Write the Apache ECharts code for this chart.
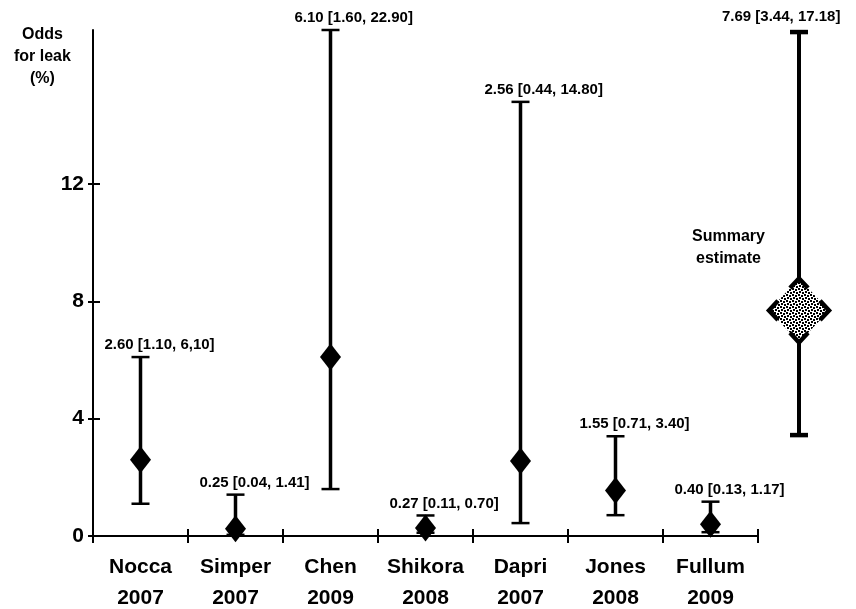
<!DOCTYPE html>
<html>
<head>
<meta charset="utf-8">
<script src="https://cdn.jsdelivr.net/npm/echarts@6/dist/echarts.min.js"></script>
<style>
  html, body { margin: 0; padding: 0; background: #fff; }
  #chart { width: 856px; height: 609px; }
</style>
</head>
<body>
<div id="chart"></div>
<script>
// Study names (two-line axis labels)
const studies = ['Nocca\n2007', 'Simper\n2007', 'Chen\n2009', 'Shikora\n2008', 'Dapri\n2007', 'Jones\n2008', 'Fullum\n2009'];
// Odds for leak with 95% CI, kept exactly as printed on the chart
const oddsText  = ['2.60', '0.25', '6.10', '0.27', '2.56', '1.55', '0.40'];
const lowerText = ['1.10', '0.04', '1.60', '0.11', '0.44', '0.71', '0.13'];
const upperText = ['6,10', '1.41', '22.90', '0.70', '14.80', '3.40', '1.17'];
// Pooled estimate: [odds, lower, upper]
const summaryText = ['7.69', '3.44', '17.18'];
// Value axis
const yTicks = [0, 4, 8, 12];
const Y_MAX = 17.25;

const FONT = '"Liberation Sans", Arial, sans-serif';
const num = s => parseFloat(s.replace(',', '.'));
const ciLabel = (o, l, u) => o + ' [' + l + ', ' + u + ']';

const studyCI = studies.map((s, i) => [i, num(lowerText[i]), num(upperText[i])]);
const studyOdds = studies.map((s, i) => [i, num(oddsText[i])]);
const studyLabels = studies.map((s, i) => ciLabel(oddsText[i], lowerText[i], upperText[i]));
const summaryLabel = ciLabel(summaryText[0], summaryText[1], summaryText[2]);

// Stippled fill for the pooled-estimate diamond
const pat = document.createElement('canvas');
pat.width = 6; pat.height = 6;
const pg = pat.getContext('2d');
pg.fillStyle = '#fff'; pg.fillRect(0, 0, 6, 6);
pg.fillStyle = '#000';
[[0, 0], [3, 1], [1, 3], [4, 4]].forEach(([a, b]) => pg.fillRect(a, b, 2, 2));

// Whisker with caps; upper ends beyond the axis are cut at the axis top
function whisker(opts) {
  return function (params, api) {
    const xi = api.value(0);
    const x = api.coord([xi, 0])[0];
    const top = api.coord([xi, Math.min(api.value(2), Y_MAX)])[1];
    const bot = api.coord([xi, api.value(1)])[1];
    const c = opts.capHalf;
    return {
      type: 'group',
      children: [
        { type: 'line', shape: { x1: x, y1: top, x2: x, y2: bot }, style: { stroke: '#000', lineWidth: opts.lw } },
        { type: 'line', shape: { x1: x - c, y1: top, x2: x + c, y2: top }, style: { stroke: '#000', lineWidth: opts.capLw } },
        { type: 'line', shape: { x1: x - c, y1: bot, x2: x + c, y2: bot }, style: { stroke: '#000', lineWidth: opts.capLw } },
        {
          type: 'text', x: x + opts.labelDx, y: top - opts.labelDy,
          style: {
            text: opts.labels[params.dataIndex], font: 'bold 15px ' + FONT, fill: '#000',
            textAlign: 'left', textVerticalAlign: 'middle', align: 'left', verticalAlign: 'middle'
          }
        }
      ]
    };
  };
}

// Pooled estimate: stippled diamond with bracketed corners, centred on the odds value
function summaryDiamond(params, api) {
  const p = api.coord([api.value(0), api.value(1)]);
  const hw = 30, hh = 32;
  const pts = [[p[0], p[1] - hh], [p[0] + hw, p[1]], [p[0], p[1] + hh], [p[0] - hw, p[1]]];
  const arm = 0.3;
  const corners = pts.map((c, k) => {
    const prev = pts[(k + 3) % 4], next = pts[(k + 1) % 4];
    return {
      type: 'polyline',
      shape: {
        points: [
          [c[0] + (prev[0] - c[0]) * arm, c[1] + (prev[1] - c[1]) * arm],
          c,
          [c[0] + (next[0] - c[0]) * arm, c[1] + (next[1] - c[1]) * arm]
        ]
      },
      style: { stroke: '#000', lineWidth: 4.5, fill: null, lineJoin: 'miter' }
    };
  });
  return {
    type: 'group',
    children: [
      { type: 'polygon', shape: { points: pts }, style: { fill: { image: pat, repeat: 'repeat' }, stroke: null } }
    ].concat(corners)
  };
}

const chart = echarts.init(document.getElementById('chart'), null, { renderer: 'canvas' });
chart.setOption({
  animation: false,
  backgroundColor: '#fff',
  grid: [
    { left: 93, right: 98, top: 30, bottom: 73, outerBoundsMode: 'none', containLabel: false },
    { left: 758, width: 82, top: 30, bottom: 73, outerBoundsMode: 'none', containLabel: false }
  ],
  xAxis: [
    {
      gridIndex: 0, type: 'category', data: studies, position: 'bottom', boundaryGap: true,
      axisLine: { lineStyle: { color: '#000', width: 2 } },
      axisTick: { show: true, length: 7, interval: 0, lineStyle: { color: '#000', width: 2 } },
      axisLabel: { interval: 0, margin: 16, color: '#000', fontFamily: FONT, fontWeight: 'bold', fontSize: 21, lineHeight: 31 }
    },
    {
      gridIndex: 0, type: 'category', data: studies, position: 'bottom', boundaryGap: true,
      axisLine: { show: false },
      axisTick: { show: true, inside: true, length: 7, interval: 0, lineStyle: { color: '#000', width: 2 } },
      axisLabel: { show: false }
    },
    { gridIndex: 1, type: 'category', data: ['Summary'], show: false }
  ],
  yAxis: [
    {
      gridIndex: 0, type: 'value', min: 0, max: Y_MAX, interval: 4,
      axisLine: { show: true, lineStyle: { color: '#000', width: 2 } },
      axisTick: { show: true, length: 5, customValues: yTicks, lineStyle: { color: '#000', width: 2 } },
      axisLabel: { customValues: yTicks, margin: 9, color: '#000', fontFamily: FONT, fontWeight: 'bold', fontSize: 21 },
      splitLine: { show: false }
    },
    {
      gridIndex: 0, type: 'value', position: 'left', min: 0, max: Y_MAX, interval: 4,
      axisLine: { show: false },
      axisTick: { show: true, inside: true, length: 7, customValues: yTicks, lineStyle: { color: '#000', width: 2 } },
      axisLabel: { show: false },
      splitLine: { show: false }
    },
    { gridIndex: 1, type: 'value', min: 0, max: Y_MAX, show: false, splitLine: { show: false } }
  ],
  graphic: [
    {
      type: 'text', left: 14, top: 24,
      style: { text: 'Odds\nfor leak\n(%)', font: 'bold 16px ' + FONT, fill: '#000', textAlign: 'center', align: 'center', lineHeight: 22 }
    },
    {
      type: 'text', left: 692, top: 226,
      style: { text: 'Summary\nestimate', font: 'bold 16px ' + FONT, fill: '#000', textAlign: 'center', align: 'center', lineHeight: 22 }
    }
  ],
  series: [
    {
      type: 'custom', xAxisIndex: 0, yAxisIndex: 0, data: studyCI, z: 2,
      renderItem: whisker({ lw: 3.5, capLw: 2.5, capHalf: 9, labelDx: -36, labelDy: 12, labels: studyLabels })
    },
    {
      type: 'scatter', xAxisIndex: 0, yAxisIndex: 0, data: studyOdds, z: 3,
      symbol: 'diamond', symbolSize: [21, 27], itemStyle: { color: '#000', opacity: 1 }
    },
    {
      type: 'custom', xAxisIndex: 2, yAxisIndex: 2, z: 2,
      data: [[0, num(summaryText[1]), num(summaryText[2])]],
      renderItem: whisker({ lw: 4, capLw: 4.5, capHalf: 9, labelDx: -77, labelDy: 15, labels: [summaryLabel] })
    },
    {
      type: 'custom', xAxisIndex: 2, yAxisIndex: 2, z: 3,
      data: [[0, num(summaryText[0])]],
      renderItem: summaryDiamond
    }
  ]
});
</script>
</body>
</html>
